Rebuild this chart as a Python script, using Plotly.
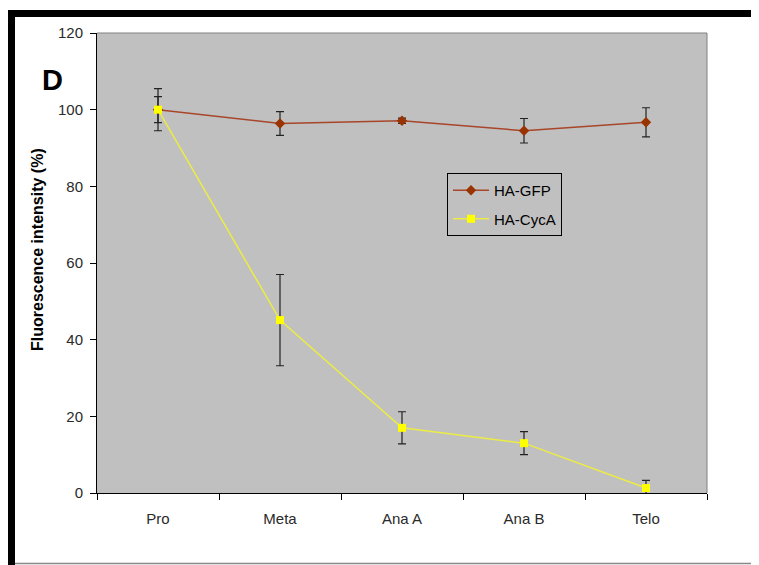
import plotly.graph_objects as go

stages = ["Pro", "Meta", "Ana A", "Ana B", "Telo"]
gfp = [100, 96.4, 97.1, 94.5, 96.7]
gfp_err = [5.5, 3.1, 0.7, 3.2, 3.8]
cyca = [100, 45.1, 17.0, 13.0, 1.3]
cyca_err = [3.4, 11.9, 4.2, 3.0, 2.0]
y_ticks = [0, 20, 40, 60, 80, 100, 120]

# page is offset by the 8px body margin
OFF = 8
W, H = 751, 557
L, R, T, B = 89, 52, 25, 72
pw, ph = W - L - R, H - T - B


def px(x):
    return (x - OFF - L) / pw


def py(y):
    return (H - B - (y - OFF)) / ph


fig = go.Figure()
fig.add_trace(go.Scatter(
    x=stages, y=gfp, name="HA-GFP", mode="lines+markers", legendgroup="a",
    line=dict(color="#a8462a", width=1.5),
    marker=dict(symbol="diamond", size=8, color="#993300"),
    error_y=dict(type="data", array=gfp_err, color="#222222", thickness=1.2, width=4),
))
fig.add_trace(go.Scatter(
    x=stages, y=cyca, name="HA-CycA", mode="lines+markers", legendgroup="b",
    line=dict(color="#ecec44", width=1.5),
    marker=dict(symbol="square", size=8, color="#ffff00"),
    error_y=dict(type="data", array=cyca_err, color="#222222", thickness=1.2, width=4),
))

shapes = [
    dict(type="rect", xref="paper", yref="paper", x0=px(0), x1=px(770), y0=py(17), y1=py(10),
         fillcolor="black", line=dict(width=0), layer="above"),
    dict(type="rect", xref="paper", yref="paper", x0=px(7), x1=px(15), y0=py(575), y1=py(10),
         fillcolor="black", line=dict(width=0), layer="above"),
    dict(type="line", xref="paper", yref="paper", x0=px(15), x1=px(770), y0=py(563.5), y1=py(563.5),
         line=dict(color="#888888", width=1.5)),
    dict(type="line", xref="paper", yref="paper", x0=0, x1=1, y0=1, y1=1,
         line=dict(color="#808080", width=1)),
    dict(type="line", xref="paper", yref="paper", x0=1, x1=1, y0=0, y1=1,
         line=dict(color="#808080", width=1)),
]

fig.update_layout(
    width=W, height=H,
    margin=dict(l=L, r=R, t=T, b=B),
    paper_bgcolor="white", plot_bgcolor="#c0c0c0",
    font=dict(family="Liberation Sans, Arial", size=14, color="#2a2a2a"),
    showlegend=True,
    legend=dict(x=px(447), y=py(173), xanchor="left", yanchor="top",
                bgcolor="#c0c0c0", bordercolor="black", borderwidth=1,
                font=dict(size=15, color="black"), tracegroupgap=6,
                itemwidth=36),
    shapes=shapes,
    annotations=[
        dict(text="<b>D</b>", x=px(52), y=py(80), xref="paper", yref="paper",
             xanchor="center", yanchor="middle", showarrow=False,
             font=dict(size=29, color="black", family="Liberation Sans, Arial")),
        dict(text="<b>Fluorescence intensity (%)</b>", x=px(37), y=py(250), xref="paper",
             yref="paper", xanchor="center", yanchor="middle", showarrow=False, textangle=-90,
             font=dict(size=16, color="black", family="Liberation Sans, Arial")),
    ],
)
fig.update_xaxes(type="category", tickson="boundaries", ticks="outside", ticklen=6,
                 tickcolor="black", showline=True, linecolor="black", linewidth=1,
                 showgrid=False, range=[-0.5, 4.5], ticklabelstandoff=12,
                 tickfont=dict(size=15, color="#2a2a2a"))
fig.update_yaxes(range=[0, 120], tickvals=y_ticks, ticks="outside", ticklen=6,
                 tickcolor="black", showline=True, linecolor="black", linewidth=1,
                 showgrid=False, zeroline=False, ticklabelstandoff=4,
                 tickfont=dict(size=15, color="#2a2a2a"))

fig.write_html("out.html")
